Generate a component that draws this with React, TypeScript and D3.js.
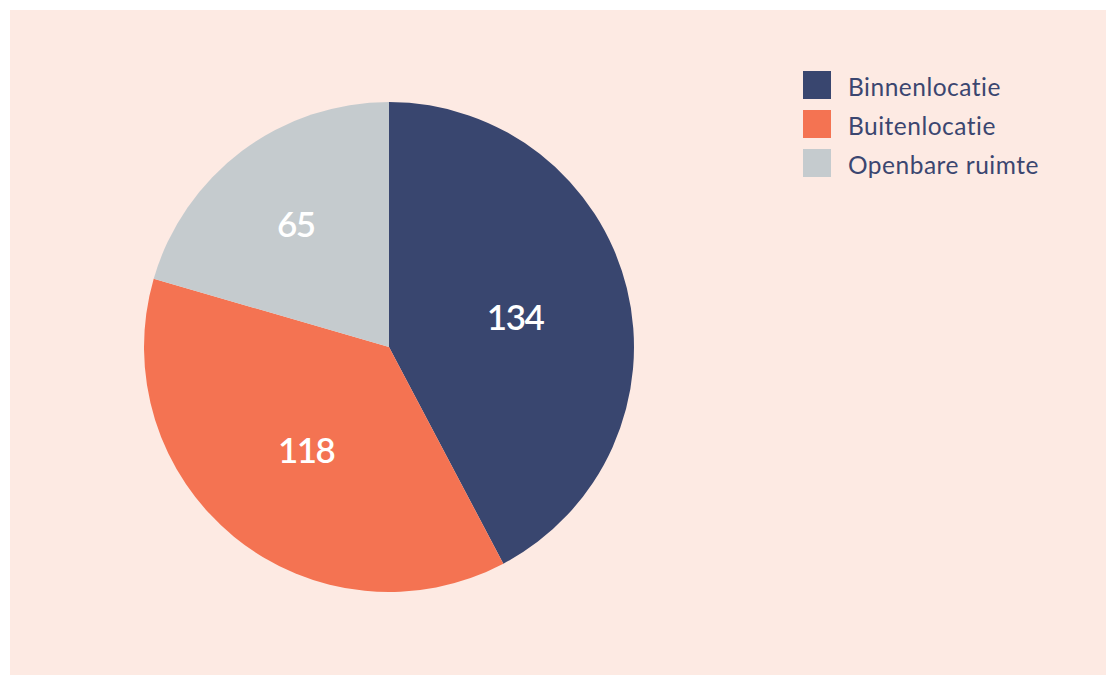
import React from "react";
import * as d3 from "d3";

const categories = ["Binnenlocatie", "Buitenlocatie", "Openbare ruimte"];
const values = [134, 118, 65];
const colors = ["#39466f", "#f47352", "#c5cbce"];

const W = 1096;
const H = 665;
const BG = "#fdeae3";
const TEXT = "#3b4670";

export default function App() {
  const cx = 379;
  const cy = 337;
  const r = 245;
  const pie = d3.pie<number>().sort(null).startAngle(0).endAngle(2 * Math.PI);
  const arcs = pie(values);
  const arcGen = d3.arc<d3.PieArcDatum<number>>().innerRadius(0).outerRadius(r);

  const labelPos = (a: d3.PieArcDatum<number>) => {
    const half = (a.endAngle - a.startAngle) / 2;
    const mid = (a.startAngle + a.endAngle) / 2;
    const centroid = (2 * r * Math.sin(half)) / (3 * half);
    const dist = Math.max(0.53 * r, 1.02 * centroid);
    return [dist * Math.sin(mid), -dist * Math.cos(mid)];
  };

  const legendY = d3.scaleBand<string>().domain(categories).range([61, 61 + 39 * 3]);

  return (
    <svg
      width={W}
      height={H}
      style={{ position: "absolute", left: 10, top: 10, display: "block" }}
    >
      <rect x={0} y={0} width={W} height={H} fill={BG} />
      <g transform={`translate(${cx},${cy})`}>
        {arcs.map((a, i) => (
          <path key={i} d={arcGen(a) || ""} fill={colors[i]} />
        ))}
        {arcs.map((a, i) => {
          const [x, y] = labelPos(a);
          return (
            <text
              key={"l" + i}
              x={x}
              y={y}
              textAnchor="middle"
              dominantBaseline="central"
              fill="#ffffff"
              style={{ fontFamily: "Lato, sans-serif", fontWeight: 600, fontSize: 35, letterSpacing: -1.5 }}
            >
              {values[i]}
            </text>
          );
        })}
      </g>
      <g>
        {categories.map((c, i) => {
          const y = legendY(c) as number;
          return (
            <g key={c}>
              <rect x={793} y={y} width={28} height={28} fill={colors[i]} />
              <text
                x={838}
                y={y + 15}
                dominantBaseline="central"
                fill={TEXT}
                style={{ fontFamily: "Lato, sans-serif", fontWeight: 400, fontSize: 24.5, letterSpacing: 0.5 }}
              >
                {c}
              </text>
            </g>
          );
        })}
      </g>
    </svg>
  );
}
